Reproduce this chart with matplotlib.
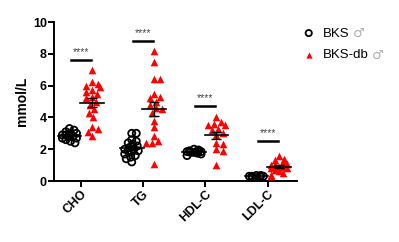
import numpy as np
import matplotlib.pyplot as plt

plt.rcParams['font.family'] = ['Liberation Sans', 'DejaVu Sans']

categories = ['CHO', 'TG', 'HDL-C', 'LDL-C']
bks = [
    [3.3, 3.2, 3.1, 3.0, 2.9, 2.9, 2.8, 2.8, 2.7, 2.7, 2.6, 2.5, 2.4, 3.0],
    [3.0, 3.0, 2.6, 2.4, 2.3, 2.2, 2.1, 2.0, 2.0, 1.9, 1.9, 1.8, 1.7, 1.6, 1.5, 1.4, 1.2, 2.5],
    [2.0, 1.95, 1.9, 1.9, 1.85, 1.85, 1.8, 1.8, 1.75, 1.7, 1.6],
    [0.35, 0.3, 0.3, 0.25, 0.3, 0.35, 0.2, 0.3],
]
db = [
    [7.0, 6.2, 6.1, 6.0, 5.9, 5.7, 5.6, 5.5, 5.3, 5.2, 5.0, 4.8, 4.5, 4.3, 4.0, 3.4, 3.3, 3.1, 2.8],
    [8.2, 7.5, 6.4, 6.4, 5.5, 5.3, 5.2, 5.0, 4.8, 4.6, 4.5, 4.3, 3.8, 3.4, 2.8, 2.5, 2.4, 2.4, 1.1],
    [4.0, 3.7, 3.6, 3.5, 3.5, 3.3, 3.2, 3.0, 2.9, 2.4, 2.3, 2.0, 1.9, 1.0],
    [1.6, 1.4, 1.3, 1.2, 1.1, 1.0, 1.0, 0.9, 0.9, 0.8, 0.8, 0.7, 0.6, 0.5, 0.4, 0.3],
]
sig_y = [7.6, 8.8, 4.7, 2.5]
sig_text = ['****'] * 4


def swarm(vals, d, wmax, xunit=62.0, yunit=15.9):
    # simple deterministic beeswarm, offsets in category units
    order = np.argsort(vals)[::-1]
    placed = []
    offs = np.zeros(len(vals))
    for i in order:
        y = vals[i] * yunit
        best = None
        for k in range(60):
            o = (k + 1) // 2 * (1 if k % 2 else -1) * 0.5
            if abs(o) > wmax:
                break
            if all((o - po) ** 2 + (y - py) ** 2 >= d * d for po, py in placed):
                best = o
                break
        if best is None:
            best = ((len(placed) % 5) - 2) * wmax / 2
        placed.append((best, y))
        offs[i] = best / xunit
    return offs


fig = plt.figure(figsize=(3.99, 2.42), dpi=100)
ax = fig.add_axes([0.135, 0.252, 0.609, 0.657])

x = np.arange(len(categories))
dx = 0.18
for i in range(len(categories)):
    b = np.array(bks[i])
    r = np.array(db[i])
    ax.scatter(x[i] - dx + swarm(b, 4.5, 7), b, s=26, facecolors='none', edgecolors='black',
               linewidths=1.3, zorder=3, label='BKS' if i == 0 else None)
    ax.scatter(x[i] + dx + swarm(r, 6.0, 8), r, s=30, marker='^', color='#ff0000',
               linewidths=0, zorder=3, label='BKS-db' if i == 0 else None)
    for xc, v in [(x[i] - dx, b), (x[i] + dx, r)]:
        m = v.mean()
        sem = v.std(ddof=1) / np.sqrt(len(v))
        ax.plot([xc - 0.19, xc + 0.19], [m, m], color='black', lw=1.2, zorder=4)
        ax.errorbar(xc, m, yerr=sem, color='black', lw=1.0, capsize=3.5, capthick=1.0, zorder=4)
    ax.plot([x[i] - dx + 0.02, x[i] + dx - 0.02], [sig_y[i], sig_y[i]], color='black', lw=1.8)
    ax.text(x[i], sig_y[i] + 0.2, sig_text[i], ha='center', va='bottom', fontsize=7.5,
            color='#444444')

ax.set_xlim(-0.43, 3.47)
ax.set_ylim(0, 10)
ax.set_yticks([0, 2, 4, 6, 8, 10])
ax.set_xticks(x)
ax.set_xticklabels(categories, rotation=45, ha='right', rotation_mode='anchor',
                   fontsize=9, fontweight='bold')
for t in ax.get_yticklabels():
    t.set_fontweight('bold')
    t.set_fontsize(9)
ax.set_ylabel('mmol/L', fontsize=10, fontweight='bold', labelpad=3)
for s in ['top', 'right']:
    ax.spines[s].set_visible(False)
for s in ['left', 'bottom']:
    ax.spines[s].set_linewidth(1.4)
ax.tick_params(width=1.4, length=4, pad=1)

leg = ax.legend(loc='upper left', bbox_to_anchor=(1.0, 1.0), frameon=False, fontsize=9.5,
                handletextpad=0.6, labelspacing=0.7, handlelength=1.0,
                borderaxespad=0.0)
for h in leg.legend_handles:
    h.set_sizes([20])

fig.canvas.draw()
inv = fig.transFigure.inverted()
for t in leg.get_texts():
    bb = t.get_window_extent()
    fx, fy = inv.transform((bb.x1 + 3, (bb.y0 + bb.y1) / 2))
    fig.text(fx, fy, '\u2642', ha='left', va='center', fontsize=9.5, color='#b0b0b0',
             family=['DejaVu Sans'])

fig.savefig('out.png', dpi=100)
